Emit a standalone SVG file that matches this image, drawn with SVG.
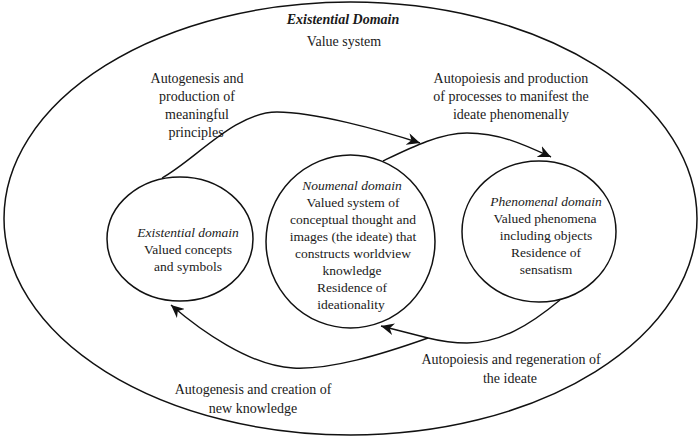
<svg xmlns="http://www.w3.org/2000/svg" width="700" height="438" viewBox="0 0 700 438" font-family="Liberation Serif, serif">
<style>
text{font-family:'Liberation Serif',serif;font-size:14px;fill:#1a1a1a;text-anchor:middle}
.c{font-size:13.5px}
.i{font-style:italic}
.b{font-weight:bold}
.sh{fill:none;stroke:#111;stroke-width:1.5}
.ln{fill:none;stroke:#111;stroke-width:1.4}
</style>
<defs>
<marker id="ah" markerUnits="userSpaceOnUse" markerWidth="14" markerHeight="12" refX="13" refY="6" orient="auto">
<path d="M0,0 L13,6 L0,12 L4,6 z" fill="#111"/>
</marker>
</defs>
<rect width="700" height="438" fill="#fff"/>
<g id="outer">
<ellipse class="sh" cx="350.5" cy="218.5" rx="346.5" ry="216.5"/>
<text class="i b" x="343" y="24">Existential Domain</text>
<text x="344" y="46">Value system</text>
</g>
<g id="connectors">
<path class="ln" d="M162,178 C195,160 235,112 277,112 C315,112 380,130 420,143" marker-end="url(#ah)"/>
<path class="ln" d="M383,161 C410,148 440,133 467,133 C500,133 525,145 551,157" marker-end="url(#ah)"/>
<path class="ln" d="M560,300 C530,325 500,343 467,343 C450,343 440,341 428,338 L381,326" marker-end="url(#ah)"/>
<path class="ln" d="M428,338 C380,355 330,370 293,368 C250,366 200,330 171,305" marker-end="url(#ah)"/>
</g>
<g id="existential">
<ellipse class="sh" cx="180" cy="239" rx="73" ry="62"/>
<text class="c i" x="188" y="237">Existential domain</text>
<text class="c" x="188" y="254">Valued concepts</text>
<text class="c" x="188" y="271">and symbols</text>
</g>
<g id="noumenal">
<ellipse class="sh" cx="350.5" cy="241.5" rx="84.5" ry="86.5"/>
<text class="c i" x="352" y="190">Noumenal domain</text>
<text class="c" x="353" y="207">Valued system of</text>
<text class="c" x="353" y="224">conceptual thought and</text>
<text class="c" x="353" y="241">images (the ideate) that</text>
<text class="c" x="353" y="258">constructs worldview</text>
<text class="c" x="352" y="275">knowledge</text>
<text class="c" x="352" y="292">Residence of</text>
<text class="c" x="351" y="309">ideationality</text>
</g>
<g id="phenomenal">
<ellipse class="sh" cx="539" cy="231.5" rx="77" ry="70.5"/>
<text class="c i" x="546" y="206">Phenomenal domain</text>
<text class="c" x="545" y="223">Valued phenomena</text>
<text class="c" x="546" y="240">including objects</text>
<text class="c" x="546" y="257">Residence of</text>
<text class="c" x="546" y="274">sensatism</text>
</g>
<g id="labels">
<text x="197" y="83">Autogenesis and</text>
<text x="197" y="101">production of</text>
<text x="197" y="119">meaningful</text>
<text x="196" y="137">principles</text>
<text x="511" y="83">Autopoiesis and production</text>
<text x="511" y="101">of processes to manifest the</text>
<text x="511" y="119">ideate phenomenally</text>
<text x="511" y="364">Autopoiesis and regeneration of</text>
<text x="510" y="383">the ideate</text>
<text x="253" y="394">Autogenesis and creation of</text>
<text x="253" y="413">new knowledge</text>
</g>
</svg>
